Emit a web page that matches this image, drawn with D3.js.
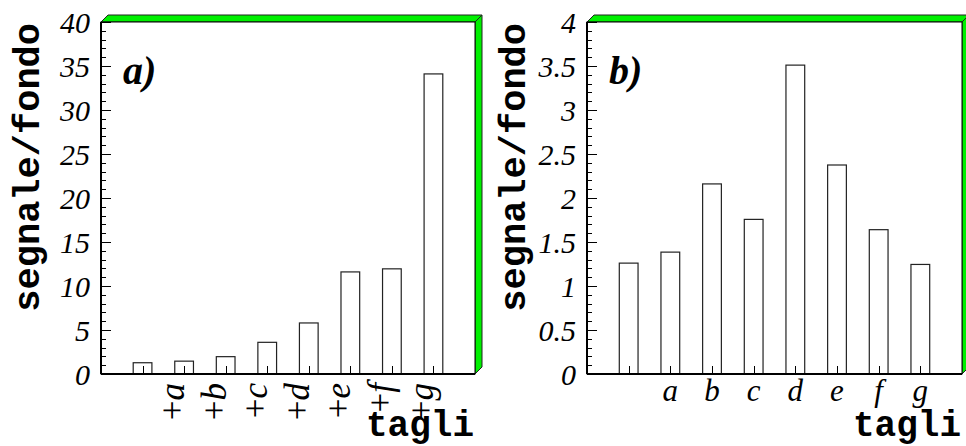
<!DOCTYPE html>
<html><head><meta charset="utf-8">
<script src="https://cdn.jsdelivr.net/npm/d3@7"></script>
<style>html,body{margin:0;padding:0;background:#fff;}svg{display:block;}</style>
</head><body>
<svg id="chart" width="966" height="446"></svg>
<script>
// ---- data ----
const categoriesA = ["", "+a", "+b", "+c", "+d", "+e", "+f", "+g"];
const valuesA = [1.28, 1.46, 1.97, 3.6, 5.8, 11.6, 11.95, 34.1];
const ticksA = [0, 5, 10, 15, 20, 25, 30, 35, 40];
const categoriesB = ["", "a", "b", "c", "d", "e", "f", "g"];
const valuesB = [1.26, 1.385, 2.16, 1.757, 3.51, 2.375, 1.64, 1.245];
const ticksB = [0, 0.5, 1, 1.5, 2, 2.5, 3, 3.5, 4];
const tickLabelsB = ["0", "0.5", "1", "1.5", "2", "2.5", "3", "3.5", "4"];

const SERIF = "'Liberation Serif', 'Times New Roman', serif";
const MONO = "'Liberation Mono', 'Courier New', monospace";
const svg = d3.select("#chart");

function panel(opt) {
  const g = svg.append("g");
  const L = opt.left, R = opt.right, T = 22, B = 374, d = 7;
  const x = d3.scaleLinear().domain([0, 9]).range([L, R]);
  const y = d3.scaleLinear().domain([0, opt.ymax]).range([B, T]);

  // 3D green frame
  g.append("polygon")
    .attr("points", [[L, T], [L + d, T - d], [R + d, T - d], [R, T]].map(p => p.join(",")).join(" "))
    .attr("fill", "#00f000").attr("stroke", "#222").attr("stroke-width", 1);
  g.append("polygon")
    .attr("points", [[R, T], [R + d, T - d], [R + d, B - d], [R, B]].map(p => p.join(",")).join(" "))
    .attr("fill", "#00f000").attr("stroke", "#222").attr("stroke-width", 1);
  g.append("rect").attr("x", L).attr("y", T).attr("width", R - L).attr("height", B - T)
    .attr("fill", "#fff").attr("stroke", "#000").attr("stroke-width", 1);

  // bars
  const bw = (x(1) - x(0)) * 0.45;
  g.selectAll("rect.bar").data(opt.values).enter().append("rect")
    .attr("class", "bar")
    .attr("x", (v, i) => x(i + 1) - bw / 2)
    .attr("y", v => y(v))
    .attr("width", bw)
    .attr("height", v => B - y(v))
    .attr("fill", "#fff").attr("stroke", "#222").attr("stroke-width", 1.2);

  // y axis ticks (inside)
  const minorTicks = d3.range(0, opt.ymax + opt.minor / 2, opt.minor);
  g.selectAll("line.ymin").data(minorTicks).enter().append("line")
    .attr("x1", L).attr("x2", L + 5)
    .attr("y1", v => Math.round(y(v)) + 0.5).attr("y2", v => Math.round(y(v)) + 0.5)
    .attr("stroke", "#000").attr("stroke-width", 1);
  g.selectAll("line.ymaj").data(opt.ticks).enter().append("line")
    .attr("x1", L).attr("x2", L + 10)
    .attr("y1", v => Math.round(y(v)) + 0.5).attr("y2", v => Math.round(y(v)) + 0.5)
    .attr("stroke", "#000").attr("stroke-width", 1);
  g.selectAll("text.ytl").data(opt.ticks).enter().append("text")
    .attr("x", L - 11).attr("y", v => y(v))
    .attr("dy", "0.35em")
    .attr("text-anchor", "end")
    .attr("font-family", SERIF)
    .attr("font-style", "italic")
    .attr("font-size", 30)
    .text((v, i) => opt.tickLabels[i]);

  // x ticks
  g.selectAll("line.xt").data(opt.values).enter().append("line")
    .attr("x1", (v, i) => Math.round(x(i + 1)) + 0.5).attr("x2", (v, i) => Math.round(x(i + 1)) + 0.5)
    .attr("y1", B).attr("y2", B - 8)
    .attr("stroke", "#000").attr("stroke-width", 1);

  // axis lines
  g.append("line").attr("x1", L).attr("x2", L).attr("y1", T).attr("y2", B)
    .attr("stroke", "#000").attr("stroke-width", 2);
  g.append("line").attr("x1", L).attr("x2", R).attr("y1", B).attr("y2", B)
    .attr("stroke", "#000").attr("stroke-width", 2);

  // x labels
  opt.categories.forEach((c, i) => {
    if (!c) return;
    const cx = x(i + 1);
    if (opt.rotate) {
      const t = g.append("text")
        .attr("transform", `translate(${cx},383) rotate(-90)`)
        .attr("text-anchor", "end")
        .attr("font-family", SERIF)
        .attr("font-size", 35);
      t.append("tspan").text(c[0]);
      t.append("tspan").attr("font-style", "italic").text(c.slice(1));
    } else {
      g.append("text")
        .attr("x", cx).attr("y", 401)
        .attr("text-anchor", "middle")
        .attr("font-family", SERIF)
        .attr("font-style", "italic")
        .attr("font-size", 31)
        .text(c);
    }
  });

  // axis titles
  g.append("text")
    .attr("transform", `translate(${L - 62},${T + 1}) rotate(-90)`)
    .attr("text-anchor", "end")
    .attr("font-family", MONO)
    .attr("font-weight", "bold")
    .attr("font-size", 37)
    .text("segnale/fondo");
  g.append("text")
    .attr("x", R - 1).attr("y", 436)
    .attr("text-anchor", "end")
    .attr("font-family", MONO)
    .attr("font-weight", "bold")
    .attr("font-size", 36)
    .text("tagli");

  // panel label
  g.append("text")
    .attr("x", L + 22).attr("y", 84)
    .attr("font-family", SERIF)
    .attr("font-weight", "bold")
    .attr("font-style", "italic")
    .attr("font-size", 40)
    .text(opt.tag);
}

panel({left: 101, right: 475, ymax: 40, ticks: ticksA, tickLabels: ticksA.map(String), minor: 1,
  values: valuesA, categories: categoriesA, rotate: true, tag: "a)"});
panel({left: 587, right: 962, ymax: 4, ticks: ticksB, tickLabels: tickLabelsB, minor: 0.1,
  values: valuesB, categories: categoriesB, rotate: false, tag: "b)"});
</script>
</body></html>
